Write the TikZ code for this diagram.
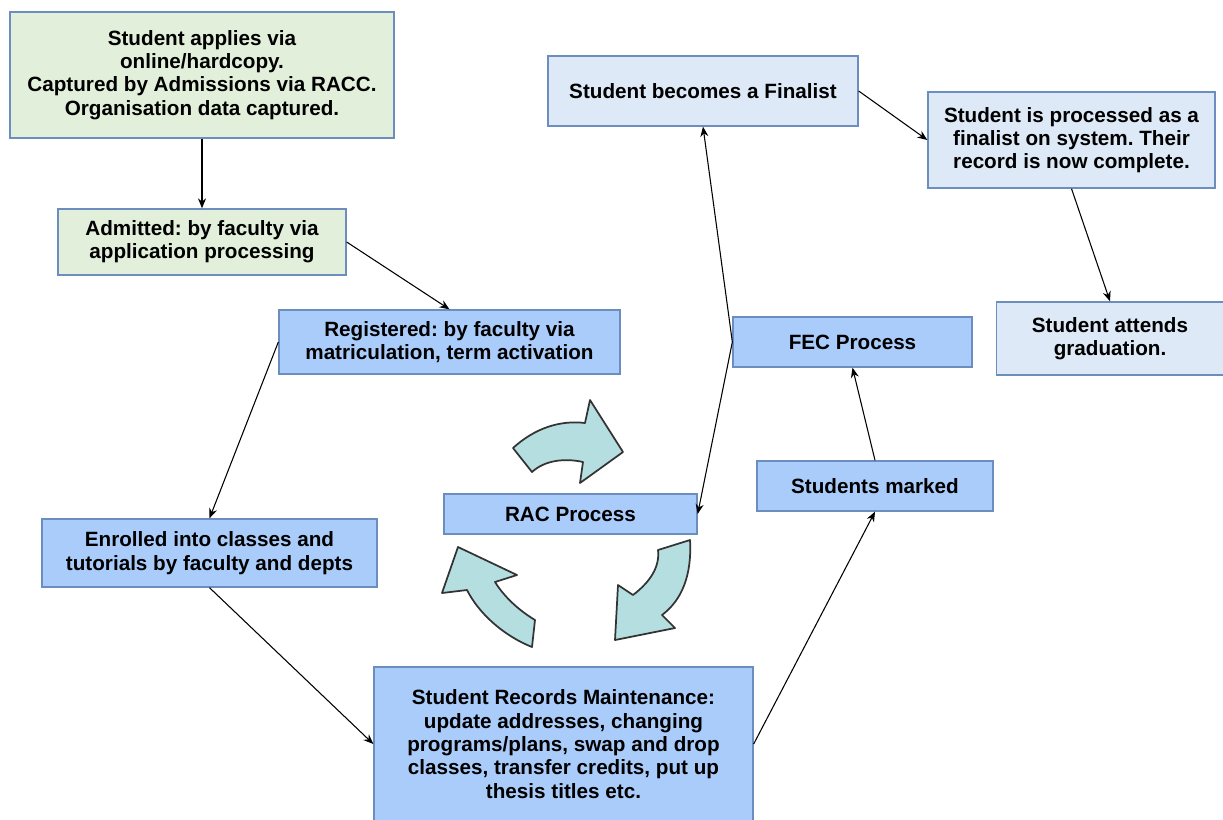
\documentclass[tikz,border=0pt]{standalone}
\usepackage{fontspec}
\setmainfont{Liberation Sans}
\usepackage{tikz}
\usetikzlibrary{arrows.meta}
\frenchspacing

\definecolor{boxline}{HTML}{6C8EBF}
\definecolor{greenfill}{HTML}{E2EFDA}
\definecolor{bluefill}{HTML}{A9CCFA}
\definecolor{palefill}{HTML}{DDE9F6}
\definecolor{cyclefill}{HTML}{B4DEE0}

\begin{document}
\begin{tikzpicture}[x=0.75pt,y=-0.75pt,
    box/.style={draw=boxline, line width=1pt, inner sep=0pt, align=center,
        font=\fontsize{15.5}{17.5}\selectfont\bfseries},
    greenbox/.style={box, fill=greenfill},
    bluebox/.style={box, fill=bluefill},
    palebox/.style={box, fill=palefill},
    cyclearrow/.style={fill=cyclefill, draw=black!80, line width=1.3pt, line join=round},
    >={Stealth[length=7.5pt,width=6pt]}]
\useasboundingbox (0,0) rectangle (1223,819);

                        \node[greenbox, minimum width=288pt, minimum height=94.5pt] (apply) at (202,75) {Student applies via\\online/hardcopy.\\Captured by Admissions via RACC.\\Organisation data captured.};
                        \node[greenbox, minimum width=216pt, minimum height=49.5pt] (admit) at (202,242) {Admitted: by faculty via\\application processing};
                        \node[bluebox, minimum width=255.75pt, minimum height=48pt] (register) at (449.5,342) {Registered: by faculty via\\matriculation, term activation};
                        \node[bluebox, minimum width=251.25pt, minimum height=51pt] (enrol) at (209.5,553) {Enrolled into classes and\\tutorials by faculty and depts};
                        \node[bluebox, minimum width=284.25pt, minimum height=115.5pt] (records) at (563.5,744) {Student Records Maintenance:\\update addresses, changing\\programs/plans, swap and drop\\classes, transfer credits, put up\\thesis titles etc.};
                        \node[bluebox, minimum width=189.75pt, minimum height=30pt] (rac) at (570.5,514) {RAC Process};
                        \node[bluebox, minimum width=177pt, minimum height=37.5pt] (marked) at (875,486) {Students marked};
                        \node[bluebox, minimum width=179.25pt, minimum height=37.5pt] (fec) at (852.5,342) {FEC Process};
                        \node[palebox, minimum width=232.5pt, minimum height=52.5pt] (finalist) at (703,91) {Student becomes a Finalist};
                        \node[palebox, minimum width=215.25pt, minimum height=72pt] (processed) at (1071.5,140) {Student is processed as a\\finalist on system. Their\\record is now complete.};
                        \node[palebox, minimum width=170.25pt, minimum height=54.75pt] (graduate) at (1110,338.5) {Student attends\\graduation.};

                        % RAC cycle
                        \draw[cyclearrow] (513,448) .. controls (535,428) and (560,420) .. (585,423)
                            -- (590,400) -- (623,452) -- (580,483) -- (583,462)
                            .. controls (565,458) and (545,460) .. (532,472) -- cycle;
                        \draw[cyclearrow] (690,540) .. controls (692,575) and (682,600) .. (662,615)
                            -- (675,628) -- (615,640) -- (618,585) -- (633,595)
                            .. controls (650,582) and (660,567) .. (658,550) -- cycle;
                        \draw[cyclearrow] (532,647) .. controls (502,635) and (478,612) .. (467,590)
                            -- (442,593) -- (458,547) -- (517,575) -- (495,582)
                            .. controls (505,598) and (520,611) .. (535,620) -- cycle;

                        \path	[->, line width=0.8pt]	(apply)	edge	(admit)
                        (admit.east)	edge	(register.north)
                        (register.west)	edge	(enrol.north)
                        (enrol.south)	edge	(records.west)
                        (records.east)	edge	(marked.south)
                        (marked.north)	edge	(fec.south)
                        (fec.west)	edge	(finalist.south)
                        edge	(rac.east)
                        (finalist.east)	edge	(processed.west)
                        (processed.south)	edge	(graduate.north);
                    \end{tikzpicture}
\end{document}
